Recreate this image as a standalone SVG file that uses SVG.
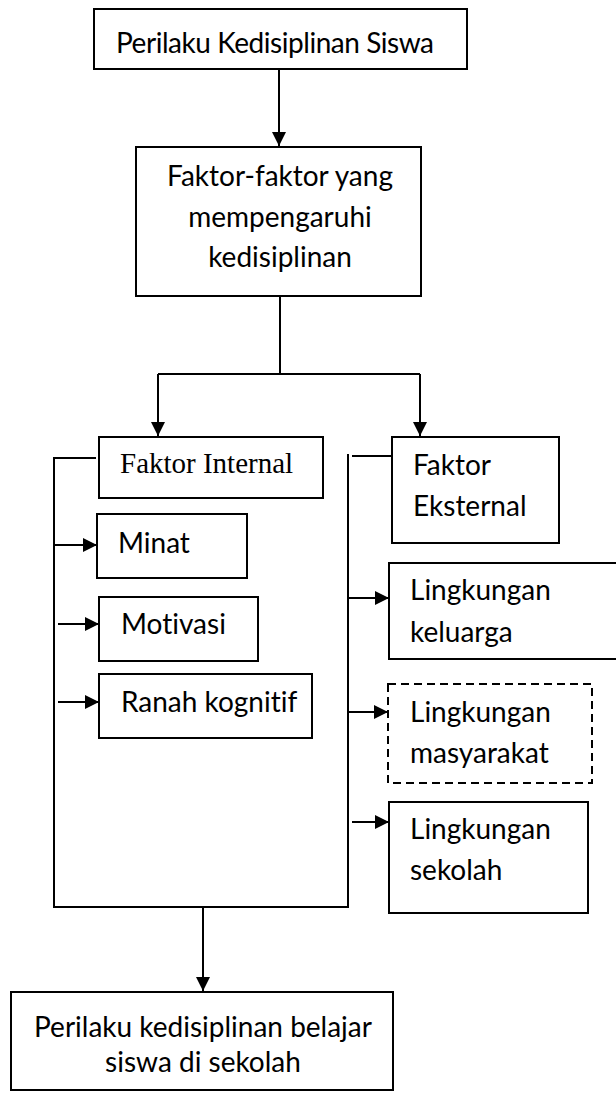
<svg xmlns="http://www.w3.org/2000/svg" width="616" height="1095" viewBox="0 0 616 1095">
<style>
.b{fill:#fff;stroke:#000;stroke-width:2}
.d{fill:#fff;stroke:#000;stroke-width:2;stroke-dasharray:8,5}
.t{font-family:Lato,"Open Sans",sans-serif;font-size:28px;fill:#000;font-variant-ligatures:none;font-feature-settings:"liga" 0}
.s{font-family:"Liberation Serif","Times New Roman",serif;font-size:29px;fill:#000}
.l{fill:none;stroke:#000;stroke-width:2}
</style>
<defs>
<marker id="a" viewBox="0 0 10 10" refX="10" refY="5" markerWidth="7" markerHeight="7" markerUnits="strokeWidth" orient="auto">
<path d="M0,0L10,5L0,10z" fill="#000"/>
</marker>
</defs>
<g id="connectors">
<path class="l" d="M279,69V146" marker-end="url(#a)"/>
<path class="l" d="M280,296V374"/>
<path class="l" d="M158,374H420"/>
<path class="l" d="M158,374V436" marker-end="url(#a)"/>
<path class="l" d="M420,374V436" marker-end="url(#a)"/>
<path class="l" d="M96,458H54V907H348V454"/>
<path class="l" d="M352,456H392"/>
<path class="l" d="M54,545H97" marker-end="url(#a)"/>
<path class="l" d="M58,624H99" marker-end="url(#a)"/>
<path class="l" d="M58,702H99" marker-end="url(#a)"/>
<path class="l" d="M348,598H389" marker-end="url(#a)"/>
<path class="l" d="M348,712H388" marker-end="url(#a)"/>
<path class="l" d="M352,822H389" marker-end="url(#a)"/>
<path class="l" d="M203,907V991" marker-end="url(#a)"/>
</g>
<g id="n1"><rect class="b" x="94" y="9" width="373" height="60"/><text class="t" x="116" y="53" textLength="318">Perilaku Kedisiplinan Siswa</text></g>
<g id="n2"><rect class="b" x="136" y="147" width="285" height="149"/>
<text class="t" x="280" y="186" text-anchor="middle">Faktor-faktor yang</text>
<text class="t" x="280" y="227" text-anchor="middle">mempengaruhi</text>
<text class="t" x="280" y="267" text-anchor="middle">kedisiplinan</text></g>
<g id="n3"><rect class="b" x="99" y="437" width="224" height="61"/><text class="s" x="120" y="473">Faktor Internal</text></g>
<g id="n4"><rect class="b" x="392" y="437" width="167" height="106"/><text class="t" x="413" y="475">Faktor</text><text class="t" x="413" y="516">Eksternal</text></g>
<g id="n5"><rect class="b" x="97" y="514" width="150" height="64"/><text class="t" x="118" y="553">Minat</text></g>
<g id="n6"><rect class="b" x="99" y="597" width="159" height="64"/><text class="t" x="121" y="634">Motivasi</text></g>
<g id="n7"><rect class="b" x="99" y="674" width="213" height="64"/><text class="t" x="121" y="712">Ranah kognitif</text></g>
<g id="n8"><rect class="b" x="389" y="563" width="240" height="96"/><text class="t" x="410" y="600">Lingkungan</text><text class="t" x="410" y="642">keluarga</text></g>
<g id="n9"><rect class="d" x="388" y="684" width="204" height="99"/><text class="t" x="410" y="722">Lingkungan</text><text class="t" x="410" y="763">masyarakat</text></g>
<g id="n10"><rect class="b" x="389" y="802" width="199" height="111"/><text class="t" x="410" y="839">Lingkungan</text><text class="t" x="410" y="880">sekolah</text></g>
<g id="n11"><rect class="b" x="11" y="992" width="382" height="98"/>
<text class="t" x="203" y="1037" text-anchor="middle">Perilaku kedisiplinan belajar</text>
<text class="t" x="203" y="1072" text-anchor="middle">siswa di sekolah</text></g>
</svg>
